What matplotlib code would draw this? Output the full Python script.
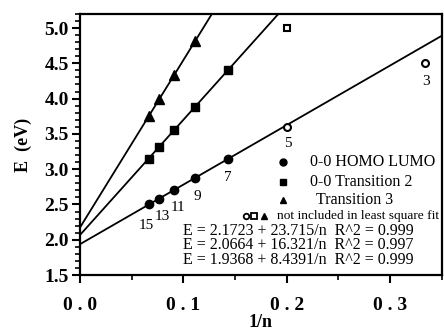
import numpy as np
import matplotlib
matplotlib.use('Agg')
import matplotlib.pyplot as plt
from matplotlib.ticker import MultipleLocator

plt.rcParams['font.family'] = ['Liberation Serif', 'DejaVu Serif']

# data (x = 1/n)
n_homo = [15, 13, 11, 9, 7]
E_homo = [2.50, 2.58, 2.70, 2.87, 3.14]
n_homo_out = [5, 3]
E_homo_out = [3.60, 4.50]

n_t2 = [15, 13, 11, 9, 7]
E_t2 = [3.15, 3.32, 3.55, 3.88, 4.40]
n_t2_out = [5]
E_t2_out = [5.00]

n_t3 = [15, 13, 11, 9]
E_t3 = [3.75, 4.00, 4.33, 4.81]

# least square fits E = a + b/n
fit_t3 = (2.1723, 23.715)
fit_t2 = (2.0664, 16.321)
fit_homo = (1.9368, 8.4391)

n_labels = ['15', '13', '11', '9', '7']
label_offsets = [(-2, -15), (2, -13), (3, -12), (2, -13), (0, -13)]

def inv(n):
    return 1.0 / np.array(n, dtype=float)

fig = plt.figure(figsize=(4.44, 3.31), dpi=100)
ax = fig.add_axes([0.180, 0.169, 0.815, 0.789])

xl = np.array([0.0, 0.35])
for a, b in (fit_t3, fit_t2, fit_homo):
    ax.plot(xl, a + b * xl, color='black', lw=1.3)

ax.plot(inv(n_homo), E_homo, 'o', color='black', ms=6)
ax.plot(inv(n_t2), E_t2, 's', color='black', ms=6)
ax.plot(inv(n_t3), E_t3, '^', color='black', ms=6.5)
ax.plot(inv(n_homo_out), E_homo_out, 'o', mfc='white', mec='black', mew=1.5, ms=5)
ax.plot(inv(n_t2_out), E_t2_out, 's', mfc='white', mec='black', mew=1.5, ms=5)

# n labels under the circles
for n, E, lab, off in zip(n_homo, E_homo, n_labels, label_offsets):
    ax.annotate(lab, (1.0 / n, E), xytext=off, textcoords='offset points',
                ha='center', va='center', fontsize=11)
ax.annotate('5', (1.0 / 5, E_homo_out[0]), xytext=(1, -12), textcoords='offset points',
            ha='center', va='center', fontsize=11)
ax.annotate('3', (1.0 / 3, E_homo_out[1]), xytext=(1, -13), textcoords='offset points',
            ha='center', va='center', fontsize=11)

# hand made legend
tr = ax.transAxes
ax.plot(0.561, 0.434, 'o', color='black', ms=5, transform=tr, clip_on=False)
ax.plot(0.561, 0.357, 's', color='black', ms=5, transform=tr, clip_on=False)
ax.plot(0.561, 0.287, '^', color='black', ms=5, transform=tr, clip_on=False)
ax.text(0.635, 0.434, '0-0 HOMO LUMO', transform=tr, va='center', fontsize=11.5)
ax.text(0.635, 0.357, '0-0 Transition 2', transform=tr, va='center', fontsize=11.5)
ax.text(0.652, 0.287, 'Transition 3', transform=tr, va='center', fontsize=11.5)
ax.plot(0.459, 0.227, 'o', mfc='white', mec='black', mew=1.3, ms=4, transform=tr, clip_on=False)
ax.plot(0.481, 0.227, 's', mfc='white', mec='black', mew=1.3, ms=4, transform=tr, clip_on=False)
ax.plot(0.508, 0.227, '^', color='black', ms=4.5, transform=tr, clip_on=False)
ax.text(0.544, 0.227, 'not included in least square fit', transform=tr, va='center', fontsize=9.6)
eq_rows = [(fit_t3, '0.999', 0.170), (fit_t2, '0.997', 0.114), (fit_homo, '0.999', 0.059)]
for (a, b), r2, y in eq_rows:
    ax.text(0.285, y, 'E = %g + %g/n  R^2 = %s' % (a, b, r2), transform=tr,
            va='center', fontsize=11.5)

ax.set_xlim(0, 0.35)
ax.set_ylim(1.5, 5.2)
ax.xaxis.set_minor_locator(MultipleLocator(0.05))
ax.yaxis.set_minor_locator(MultipleLocator(0.1))
ax.set_xticks([0.0, 0.1, 0.2, 0.3])
ax.set_xticklabels(['0 . 0', '0 . 1', '0 . 2', '0 . 3'], fontweight='bold', fontsize=14)
yt = [1.5, 2.0, 2.5, 3.0, 3.5, 4.0, 4.5, 5.0]
ax.set_yticks(yt)
ax.set_yticklabels(['%.1f' % v for v in yt], fontweight='bold', fontsize=14)
ax.tick_params(axis='both', which='major', direction='out', length=6, width=1.5, pad=2)
ax.tick_params(axis='x', which='major', pad=10)
ax.tick_params(axis='both', which='minor', direction='out', length=3.5, width=1.2)
for s in ax.spines.values():
    s.set_linewidth(1.6)

ax.set_ylabel('E  (eV)', fontweight='bold', fontsize=13, labelpad=9)
ax.set_xlabel('1/n', fontweight='bold', fontsize=13, labelpad=0)

fig.savefig('out.png', dpi=100)
